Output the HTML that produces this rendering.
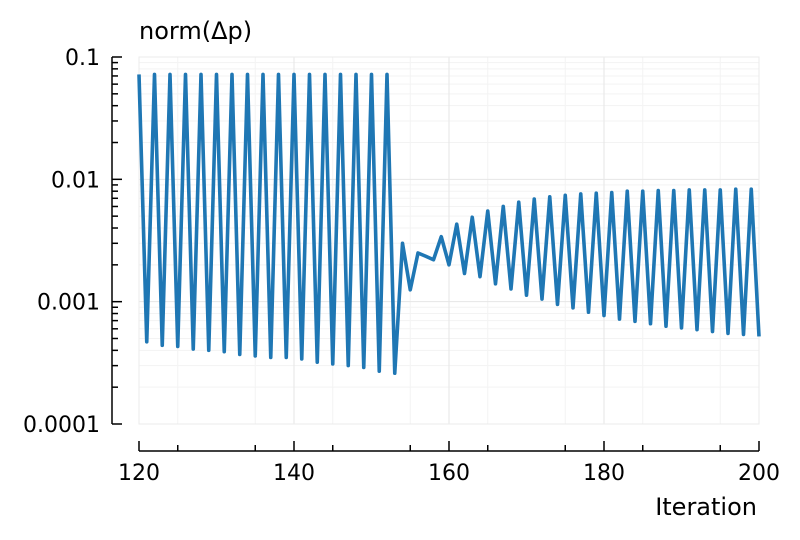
<!DOCTYPE html>
<html><head><meta charset="utf-8"><style>
body{margin:0;background:#fff}
svg{display:block;font-family:"DejaVu Sans","Liberation Sans",sans-serif}
</style></head><body>
<svg id="chart" width="800" height="540" viewBox="0 0 800 540">
<g id="grid"></g>
<rect x="139" y="57" width="620" height="367" fill="none" stroke="#ebebeb" stroke-width="1"/>
<g id="axes"></g>
<path id="line" fill="none" stroke="#1f77b4" stroke-width="3.6" stroke-linejoin="round"/>
<text x="139" y="39" font-size="24">norm(Δp)</text>
<text x="757" y="515" font-size="24" text-anchor="end">Iteration</text>
</svg>
<script>
const xStart = 120;
const values = [
0.072,0.00047,0.072,0.00044,0.072,0.00043,0.072,0.00041,0.072,0.00040,
0.072,0.00039,0.072,0.00037,0.072,0.00036,0.072,0.00035,0.072,0.00035,
0.072,0.00034,0.072,0.00032,0.072,0.00031,0.072,0.00030,0.072,0.00029,
0.072,0.00027,0.072,0.00026,0.0030,0.00125,0.0025,0.00235,0.0022,0.0034,
0.0020,0.0043,0.0017,0.0049,0.0016,0.0055,0.0014,0.0060,0.00127,0.0065,
0.00113,0.0069,0.00105,0.0072,0.00095,0.0074,0.00089,0.0076,0.00082,0.0077,
0.00077,0.0078,0.00072,0.0080,0.00069,0.0080,0.00066,0.0081,0.00063,0.0081,
0.00061,0.0082,0.00059,0.0082,0.00057,0.0082,0.00055,0.0083,0.00054,0.0083,
0.00052];
const xTicks = [120,140,160,180,200];
const yTicks = [0.1,0.01,0.001,0.0001];
const yTickLabels = ["0.1","0.01","0.001","0.0001"];
const X0=139,X1=759,Y0=57,Y1=424,AX=112,AY=451;
function sx(v){return X0+(v-120)/(200-120)*(X1-X0);}
function sy(v){return Y0+(-1-Math.log10(v))/3*(Y1-Y0);}
const NS="http://www.w3.org/2000/svg";
function mk(tag,attrs,parent){const e=document.createElementNS(NS,tag);for(const k in attrs)e.setAttribute(k,attrs[k]);parent.appendChild(e);return e;}
const grid=document.getElementById('grid'), axes=document.getElementById('axes');
for(let d=-4;d<-1;d++){for(let m=2;m<10;m++){const v=m*Math.pow(10,d);
 const l=mk('line',{x1:X0,x2:X1,y1:sy(v),y2:sy(v),stroke:'#f3f3f3','stroke-width':1},grid);
 
 
 const t=mk('line',{x1:AX,x2:AX+6,y1:sy(v),y2:sy(v),stroke:'#000','stroke-width':1.5},axes);
 
 }}
for(let v=125;v<200;v+=10){const l=mk('line',{x1:sx(v),x2:sx(v),y1:Y0,y2:Y1,stroke:'#f3f3f3','stroke-width':1},grid);
 
 
 const t=mk('line',{x1:sx(v),x2:sx(v),y1:AY-6,y2:AY,stroke:'#000','stroke-width':1.5},axes);
 
 }
yTicks.forEach((v,i)=>{const l=mk('line',{x1:X0,x2:X1,y1:sy(v),y2:sy(v),stroke:'#e6e6e6','stroke-width':1},grid);
 
 
 const t=mk('line',{x1:AX,x2:AX+10,y1:sy(v),y2:sy(v),stroke:'#000','stroke-width':1.5},axes);
 
 
 const tx=mk('text',{x:100,y:sy(v)+8,'font-size':22,'text-anchor':'end'},axes);tx.textContent=yTickLabels[i];
 
 });
xTicks.forEach(v=>{const l=mk('line',{x1:sx(v),x2:sx(v),y1:Y0,y2:Y1,stroke:'#e6e6e6','stroke-width':1},grid);
 
 
 const t=mk('line',{x1:sx(v),x2:sx(v),y1:AY-10,y2:AY,stroke:'#000','stroke-width':1.5},axes);
 
 
 const tx=mk('text',{x:sx(v),y:480,'font-size':22,'text-anchor':'middle'},axes);tx.textContent=v;
 
 });
const ya=mk('line',{x1:AX,x2:AX,y1:Y0,y2:Y1,stroke:'#000','stroke-width':1.5},axes);


const xa=mk('line',{x1:X0,x2:X1,y1:AY,y2:AY,stroke:'#000','stroke-width':1.5},axes);


document.getElementById('line').setAttribute('d',values.map((v,i)=>(i?'L':'M')+sx(xStart+i).toFixed(2)+','+sy(v).toFixed(2)).join(''));
</script>
</body></html>
